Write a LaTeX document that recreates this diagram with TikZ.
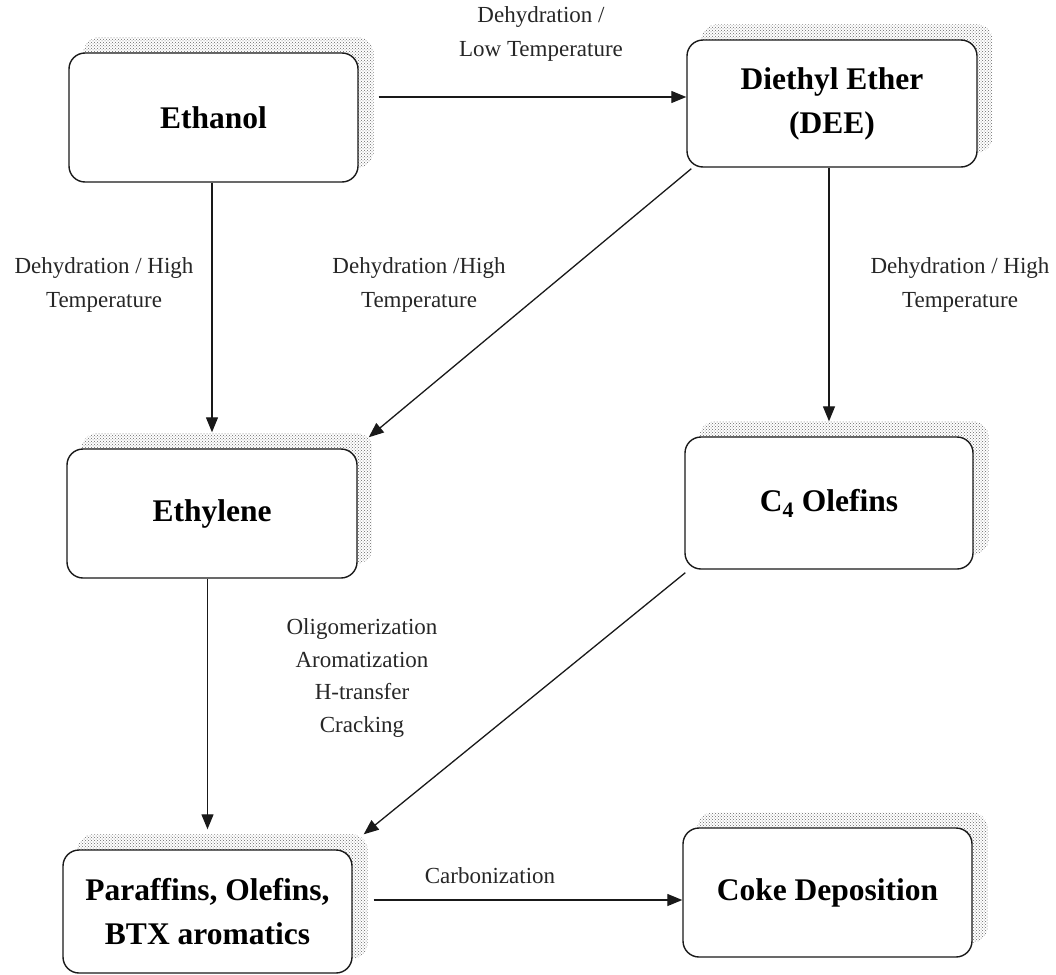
\documentclass[tikz,border=0pt]{standalone}
\usepackage{fontspec}
\setmainfont{Liberation Serif}
\usetikzlibrary{arrows.meta,patterns,backgrounds,calc}
\begin{document}
\begin{tikzpicture}[x=1pt,y=-1pt,
  box/.style={draw=black!90, line width=1.4pt, rounded corners=16pt, fill=white, inner sep=0pt, align=center, font=\fontsize{31.5}{44}\selectfont\bfseries},
  lbl/.style={align=center, font=\fontsize{23}{34}\selectfont, text=black!85, inner sep=0pt},
  arr/.style={line width=1.3pt, draw=black!90, -{Triangle[length=15pt,width=12pt]}},
  shadowfill/.style={pattern=crosshatch dots, pattern color=black!60, rounded corners=16pt}]
\useasboundingbox (0,0) rectangle (1056,974);

% boxes
\node[box, minimum width=289pt, minimum height=129pt] (eth) at (213.5,117.5) {Ethanol};
\node[box, minimum width=290pt, minimum height=127pt] (dee) at (832,103.5) {Diethyl Ether\\(DEE)};
\node[box, minimum width=290pt, minimum height=129pt] (ethy) at (212,513.5) {Ethylene};
\node[box, minimum width=288pt, minimum height=132pt] (c4) at (829,503) {C\textsubscript{4} Olefins};
\node[box, minimum width=289pt, minimum height=123pt] (par) at (207.5,911.5) {Paraffins, Olefins,\\BTX aromatics};
\node[box, minimum width=289pt, minimum height=129pt] (coke) at (827.5,892.5) {Coke Deposition};

% shadows
\begin{scope}[on background layer]
\foreach \n in {eth,dee,ethy,c4,par,coke}
  \fill[shadowfill] ([shift={(15,-15)}]\n.south west) rectangle ([shift={(15,-15)}]\n.north east);
\end{scope}

% helper coordinates
\coordinate (r1) at (0,97);
\coordinate (r2) at (0,900);

% connectors
\draw[arr, shorten <=20pt] (eth.east |- r1) -- (dee.west |- r1);
\draw[arr, shorten >=16pt] (eth.south -| ethy.north) -- (ethy.north);
\draw[arr] ([shift={(5,1)}]dee.south west) -- ([shift={(11,-11)}]ethy.north east);
\draw[arr, shorten >=15pt] (dee.south -| c4.north) -- (c4.north);
\draw[arr, shorten >=20pt] (ethy.south -| par.north) -- (par.north);
\draw[arr] ([shift={(1,3)}]c4.south west) -- ([shift={(11,-15)}]par.north east);
\draw[arr, shorten <=21pt] (par.east |- r2) -- (coke.west |- r2);

% labels
\node[lbl] (l1) at (541,34) {Dehydration /\\Low Temperature};
\node[lbl] (l2) at (104,285) {Dehydration / High\\Temperature};
\node[lbl] (l3) at (419,285) {Dehydration /High\\Temperature};
\node[lbl] (l4) at (960,285) {Dehydration / High\\Temperature};
\node[lbl, font=\fontsize{23}{32.5}\selectfont] (l5) at (362,678) {Oligomerization\\Aromatization\\H-transfer\\Cracking};
\node[lbl] (l6) at (490,876) {Carbonization};
\end{tikzpicture}
\end{document}
